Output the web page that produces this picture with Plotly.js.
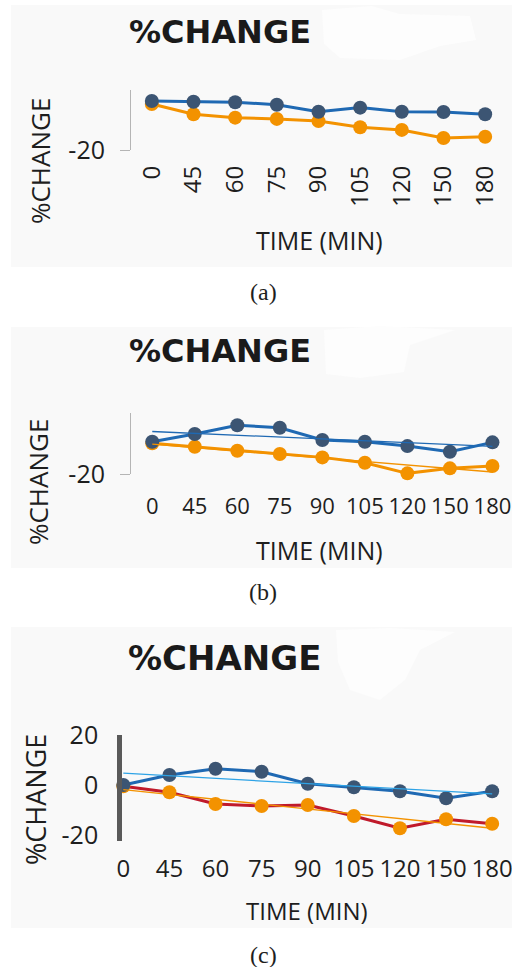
<!DOCTYPE html>
<html>
<head>
<meta charset="utf-8">
<script src="https://cdn.plot.ly/plotly-3.0.1.min.js"></script>
<style>
  html, body { margin: 0; padding: 0; background: #ffffff; }
  #chart { width: 512px; height: 967px; }
</style>
</head>
<body>
<div id="chart"></div>
<script>
// Sampling times shared by all three panels
const timeLabels = ['0', '45', '60', '75', '90', '105', '120', '150', '180'];

// Panel (a): percent change per sampling time
const aBlue   = [0, -0.3, -0.5, -1.5, -4.4, -2.7, -4.4, -4.5, -5.4];
const aOrange = [-1.2, -5.4, -6.8, -7.3, -8.2, -10.7, -11.8, -15.1, -14.6];

// Panel (b)
const bBlue   = [0, 4.8, 10.2, 8.7, 1.1, 0, -2.7, -6.2, -0.4];
const bOrange = [-1.0, -3.1, -5.6, -7.6, -9.7, -13.0, -19.6, -16.5, -15.0];

// Panel (c)
const cBlue   = [0, 4.0, 6.5, 5.3, 0.5, -0.9, -2.5, -5.3, -2.5];
const cOrange = [-0.5, -2.9, -7.6, -8.4, -8.0, -12.4, -17.3, -13.7, -15.5];

// Y tick labels
const aYTicks = [-20];
const bYTicks = [-20];
const cYTicks = [20, 0, -20];

// Least-squares linear trend over the category positions
function trend(vals) {
  const n = vals.length;
  const xs = vals.map((_, i) => i);
  const mx = xs.reduce((s, v) => s + v, 0) / n;
  const my = vals.reduce((s, v) => s + v, 0) / n;
  let num = 0, den = 0;
  for (let i = 0; i < n; i++) { num += (xs[i] - mx) * (vals[i] - my); den += (xs[i] - mx) ** 2; }
  const k = num / den, b = my - k * mx;
  return xs.map(x => b + k * x);
}

// Pixel -> paper helpers for layout placement
const W = 512, H = 967;
const fx = p => p / W;
const fy = p => 1 - p / H;

const BLUE_LINE = '#1f69b3';
const BLUE_MARK = '#3c5573';
const ORANGE = '#f39200';
const RED = '#c01a2b';
const LIGHT_BLUE = '#2ea3e6';
const TXT = '#1e1e1e';
const FONT = 'Open Sans, Noto Sans, sans-serif';

function series(x, y, xa, ya, line, mark) {
  return {
    type: 'scatter', mode: 'lines+markers', x: x, y: y, xaxis: xa, yaxis: ya,
    line: { color: line, width: 3 },
    marker: { color: mark, size: 14 },
    cliponaxis: false, showlegend: false, hoverinfo: 'skip'
  };
}
function trendTrace(vals, xa, ya, color) {
  return {
    type: 'scatter', mode: 'lines', x: timeLabels, y: trend(vals), xaxis: xa, yaxis: ya,
    line: { color: color, width: 1.3 }, cliponaxis: false, showlegend: false, hoverinfo: 'skip'
  };
}

const data = [
  // (a)
  series(timeLabels, aOrange, 'x', 'y', ORANGE, ORANGE),
  series(timeLabels, aBlue, 'x', 'y', BLUE_LINE, BLUE_MARK),
  // (b)
  series(timeLabels, bOrange, 'x2', 'y2', ORANGE, ORANGE),
  series(timeLabels, bBlue, 'x2', 'y2', BLUE_LINE, BLUE_MARK),
  trendTrace(bBlue, 'x2', 'y2', BLUE_LINE),
  trendTrace(bOrange, 'x2', 'y2', ORANGE),
  // (c)
  series(timeLabels, cOrange, 'x3', 'y3', RED, ORANGE),
  series(timeLabels, cBlue, 'x3', 'y3', BLUE_LINE, BLUE_MARK),
  trendTrace(cBlue, 'x3', 'y3', LIGHT_BLUE),
  trendTrace(cOrange, 'x3', 'y3', ORANGE)
];

const tf = s => ({ family: FONT, size: s, color: TXT });

function xAxis(domain, range, anchor, extra) {
  return Object.assign({
    type: 'category', domain: domain, range: range, anchor: anchor,
    showline: false, showgrid: false, zeroline: false, ticks: '',
    tickfont: tf(24), fixedrange: true
  }, extra || {});
}
function yAxis(domain, range, anchor, vals, extra) {
  return Object.assign({
    domain: domain, range: range, anchor: anchor,
    showgrid: false, zeroline: false, showline: true,
    linecolor: '#b5b5b5', linewidth: 1,
    ticks: 'outside', ticklen: 10, tickcolor: '#b5b5b5', tickwidth: 1,
    tickvals: vals, ticktext: vals.map(String),
    tickfont: tf(25), fixedrange: true
  }, extra || {});
}

function label(text, x, y, size, opts) {
  return Object.assign({
    text: text, xref: 'paper', yref: 'paper', x: fx(x), y: fy(y),
    xanchor: 'center', yanchor: 'middle', showarrow: false,
    font: tf(size)
  }, opts || {});
}

const titleFont = s => ({ family: 'DejaVu Sans, sans-serif', size: s, color: '#1a1a1a' });
const capFont = { family: 'Liberation Serif, serif', size: 24, color: TXT };

const annotations = [
  // panel titles
  label('<b>%CHANGE</b>', 219.5, 32, 32, { font: titleFont(32) }),
  label('<b>%CHANGE</b>', 219.5, 351, 32, { font: titleFont(32) }),
  label('<b>%CHANGE</b>', 224, 658, 34, { font: titleFont(34) }),
  // axis titles
  label('TIME (MIN)', 319, 240, 25),
  label('%CHANGE', 40, 161, 26, { textangle: -90 }),
  label('TIME (MIN)', 319, 550, 25),
  label('%CHANGE', 38, 482, 26, { textangle: -90 }),
  label('TIME (MIN)', 307, 910, 24),
  label('%CHANGE', 35, 800, 27, { textangle: -90 }),
  // panel captions
  label('(a)', 263, 292, 24, { font: capFont }),
  label('(b)', 263, 592, 24, { font: capFont }),
  label('(c)', 263, 955, 24, { font: capFont })
];

function panelBg(y0, y1) {
  return { type: 'rect', xref: 'paper', yref: 'paper', x0: fx(11), x1: fx(512), y0: fy(y1), y1: fy(y0),
           fillcolor: '#f9f9f9', line: { width: 0 }, layer: 'below' };
}
// faint light patch beside each panel heading
function patch(pts) {
  const d = 'M' + pts.map(p => fx(p[0]) + ',' + fy(p[1])).join(' L') + ' Z';
  return { type: 'path', xref: 'paper', yref: 'paper', path: d,
           fillcolor: '#fdfdfd', line: { width: 0 }, layer: 'below' };
}

const layout = {
  width: W, height: H,
  margin: { l: 0, r: 0, t: 0, b: 0 },
  paper_bgcolor: '#ffffff', plot_bgcolor: 'rgba(0,0,0,0)',
  showlegend: false,
  xaxis:  xAxis([fx(131), fx(506)], [-0.5, 8.5], 'y', { tickangle: -90, ticklabelstandoff: 10 }),
  yaxis:  yAxis([fy(150), fy(90)], [-20, 4.5], 'x', aYTicks, { ticklabelstandoff: 10 }),
  xaxis2: xAxis([fx(131), fx(512)], [-0.5, 8.46], 'y2', { tickangle: 0, tickfont: tf(22), ticklabelstandoff: 17 }),
  yaxis2: yAxis([fy(474), fy(413)], [-20, 17.8], 'x2', bYTicks, { ticklabelstandoff: 10 }),
  xaxis3: xAxis([fx(121.7), fx(512)], [-0.035, 8.43], 'y3', { tickangle: 0, ticklabelstandoff: 11 }),
  yaxis3: yAxis([fy(840.7), fy(735)], [-22.3, 20], 'x3', cYTicks,
                { linecolor: '#5a5a5a', linewidth: 4.5, ticks: '', ticklabelstandoff: 14 }),
  shapes: [
    panelBg(5, 267), panelBg(327, 568), panelBg(627, 928),
    patch([[322, 10], [372, 6], [400, 14], [470, 16], [476, 40], [440, 46], [400, 60], [340, 58], [324, 44]]),
    patch([[324, 330], [380, 326], [455, 330], [410, 345], [404, 372], [360, 378], [326, 374]]),
    patch([[336, 630], [390, 628], [455, 632], [420, 650], [405, 680], [380, 700], [350, 690], [338, 662]])
  ],
  annotations: annotations
};

Plotly.newPlot('chart', data, layout, { staticPlot: true, displayModeBar: false });
</script>
</body>
</html>
